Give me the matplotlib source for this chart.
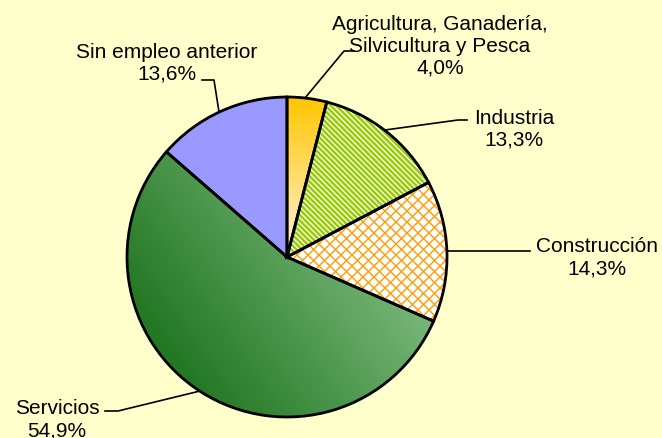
import numpy as np
import matplotlib
matplotlib.use('Agg')
import matplotlib.pyplot as plt
from matplotlib.collections import LineCollection

plt.rcParams['font.family'] = ['Liberation Sans', 'DejaVu Sans']

# datos (porcentaje de parados por sector)
sectors = ['Agricultura, Ganadería,\nSilvicultura y Pesca', 'Industria',
           'Construcción', 'Servicios', 'Sin empleo anterior']
shares = [4.0, 13.3, 14.3, 54.9, 13.6]
pct_labels = ['4,0%', '13,3%', '14,3%', '54,9%', '13,6%']

W, H = 662, 439
fig = plt.figure(figsize=(W / 100, H / 100), dpi=100, facecolor='#FFFFCC')
ax = fig.add_axes([0, 0, 1, 1])
ax.set_facecolor('#FFFFCC')

cx, cy, R = 287, H - 258, 160
base_colors = ['white', 'white', 'white', 'white', '#9999FF']

wedges, _ = ax.pie(shares, startangle=90, counterclock=False, center=(cx, cy), radius=R,
                   colors=base_colors, wedgeprops=dict(linewidth=0))
outline, _ = ax.pie(shares, startangle=90, counterclock=False, center=(cx, cy), radius=R,
                    wedgeprops=dict(fill=False, linewidth=2, edgecolor='black', zorder=4))

# degradados
ext = (cx - R, cx + R, cy - R, cy + R)
n = 300
xs = np.linspace(ext[0], ext[1], n)
ys = np.linspace(ext[3], ext[2], n)
X, Y = np.meshgrid(xs, ys)


def grad_img(t, c0, c1):
    t = np.clip(t, 0, 1)[..., None]
    c0 = np.array(c0, float) / 255
    c1 = np.array(c1, float) / 255
    return c0 + (c1 - c0) * t


# Agricultura: amarillo arriba, claro hacia el centro
t_agr = (cy + R - Y) / R
img = ax.imshow(grad_img(t_agr, (255, 198, 0), (255, 244, 222)), extent=ext, zorder=2,
                interpolation='bilinear')
img.set_clip_path(wedges[0])

# Servicios: verde oscuro abajo-izquierda, claro arriba-derecha
ang = np.deg2rad(35)
proj = (X - cx) * np.cos(ang) + (Y - cy) * np.sin(ang)
t_srv = (proj + 150) / 260
img2 = ax.imshow(grad_img(t_srv, (36, 120, 36), (130, 190, 130)), extent=ext, zorder=2,
                 interpolation='bilinear')
img2.set_clip_path(wedges[3])


def hatch(wedge, slopes, step, color, lw):
    segs = []
    for s in slopes:
        for b in np.arange(-2 * W, 2 * W, step):
            segs.append([(0, b), (W, b + s * W)])
    lc = LineCollection(segs, colors=color, linewidths=lw, zorder=2)
    ax.add_collection(lc)
    lc.set_clip_path(wedge)


hatch(wedges[1], [-1], 5.4, '#99CC00', 1.8)
hatch(wedges[2], [-1, 1], 11, '#FF9900', 1.0)

# líneas guía
leaders = [
    [(305, 99), (344, 52), (354, 52)],
    [(385, 131), (458, 121), (467, 121)],
    [(447, 252), (530, 252)],
    [(200, 392), (118, 412), (105, 412)],
    [(219, 113), (214, 81), (202, 81)],
]
text_pos = [(440, 46), (514, 129), (597, 258), (57, 420), (167, 63)]

for pts, (tx, ty), name, pct in zip(leaders, text_pos, sectors, pct_labels):
    px, py = zip(*pts)
    ax.plot(px, [H - v for v in py], color='black', lw=1.2, zorder=3)
    ax.text(tx, H - ty, name + '\n' + pct, ha='center', va='center',
            multialignment='center', fontsize=15, color='black')

ax.set_xlim(0, W)
ax.set_ylim(0, H)
ax.set_aspect('auto')
ax.axis('off')

fig.savefig('out.png', dpi=100, facecolor='#FFFFCC')
